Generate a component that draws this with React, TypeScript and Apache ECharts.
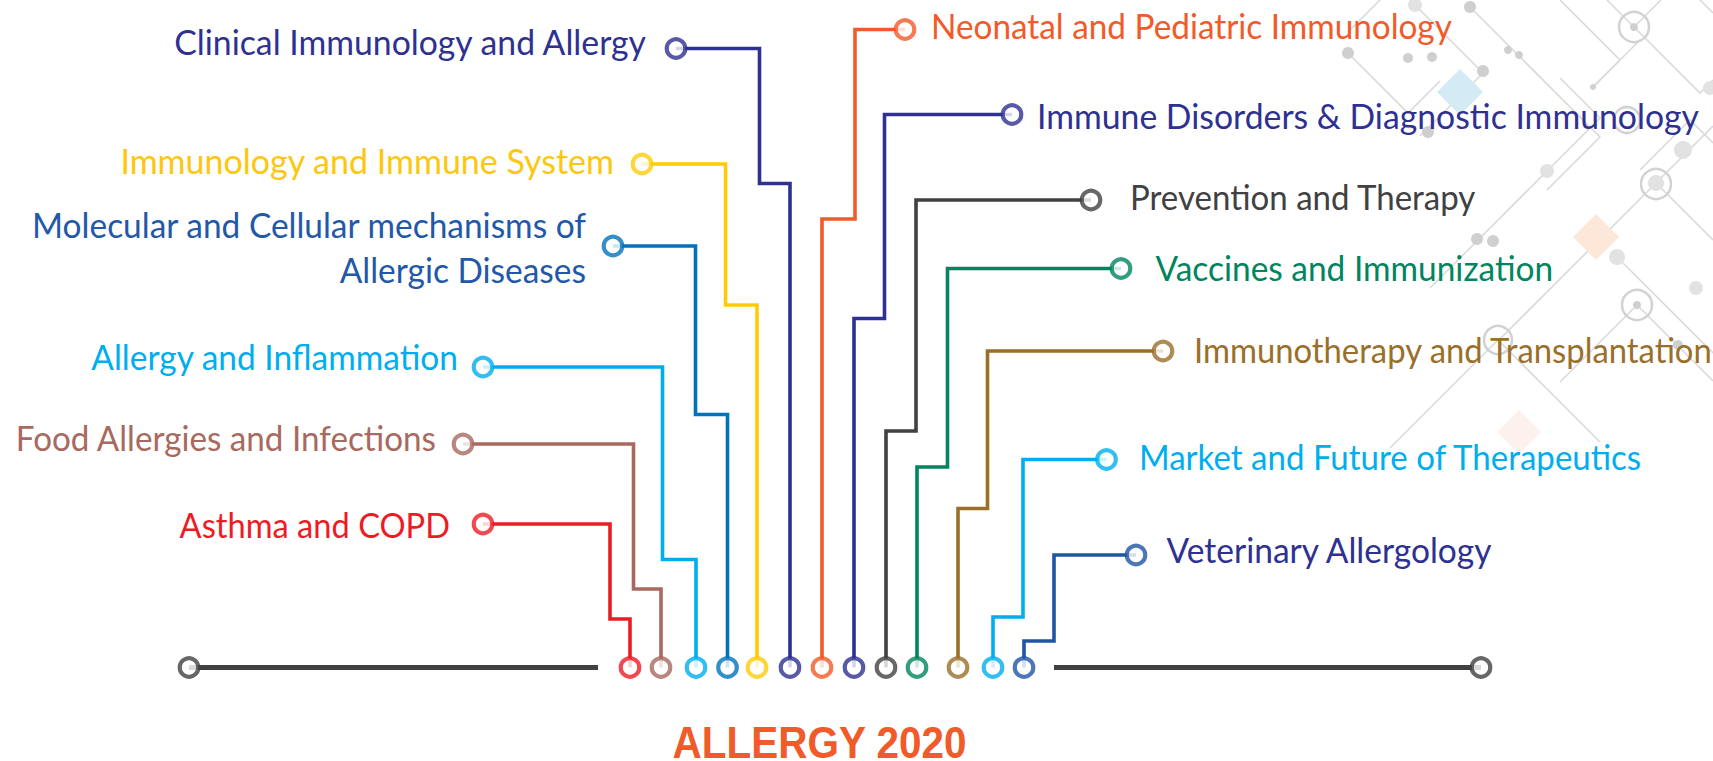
import React, { useEffect, useRef } from "react";
import * as echarts from "echarts";

const W = 1713;
const H = 761;

// ---- Topics (drawn as circuit connectors into the bottom bus) ----
const topicNames = [
  "Asthma and COPD",
  "Food Allergies and Infections",
  "Allergy and Inflammation",
  "Molecular and Cellular mechanisms of\nAllergic Diseases",
  "Immunology and Immune System",
  "Clinical Immunology and Allergy",
  "Neonatal and Pediatric Immunology",
  "Immune Disorders & Diagnostic Immunology",
  "Prevention and Therapy",
  "Vaccines and Immunization",
  "Immunotherapy and Transplantation",
  "Market and Future of Therapeutics",
  "Veterinary Allergology",
];
const topicSide = ["left", "left", "left", "left", "left", "left", "right", "right", "right", "right", "right", "right", "right"];
// label node (circle at the end of each connector)
const anchorX = [483, 463, 483, 613, 642, 676, 905, 1012, 1091, 1121, 1163, 1106.5, 1136];
const anchorY = [524, 444, 367, 246, 164, 48.5, 29.5, 114.5, 200, 268.5, 351, 459.5, 555];
// first vertical run of each connector
const trunkX = [610, 633.5, 662.5, 695.5, 725.5, 759.5, 855, 884.5, 916, 947.5, 987.5, 1023, 1054];
// height of the jog
const stepY = [619, 589, 559.5, 414.5, 305, 183.5, 219, 318.5, 431, 467, 508.5, 617, 641];
// slot on the bottom bus
const slotX = [630, 661, 696, 727.5, 757, 790, 822, 854, 886, 917, 958, 993, 1024];
// text anchors
const labelEdgeX = [450, 436, 458, 586, 614, 646, 931, 1037, 1130, 1155.5, 1194, 1139, 1166.5];
const labelMidY = [525.8, 439.2, 357.5, 248.6, 161.5, 42.5, 26.5, 116.8, 198.2, 269.2, 350.8, 458.2, 550.8];

// bottom bus
const busY = 667.5;
const busLeft = [189, 598];
const busRight = [1054, 1481];

// ---- styles ----
const lineColors = ["#ed1c24", "#a8695f", "#00aeef", "#0072bc", "#ffcb05", "#2e3192", "#f15a29", "#2e3192", "#414042", "#00855f", "#9a6f2a", "#00aeef", "#1f55a5"];
const textColors = ["#ed1c24", "#a8695f", "#00aeef", "#2358a8", "#fdc70f", "#2e3192", "#f15a29", "#2e3192", "#414042", "#00855f", "#9a6f2a", "#00aeef", "#2e3192"];
const labelScaleX = [0.96, 0.977, 0.985, 0.984, 1.0, 0.993, 0.98, 0.993, 0.972, 0.984, 0.965, 0.972, 0.987];
const busColor = "#414042";

const titleText = "ALLERGY 2020";

// ---- faint background network (decoration) ----
const decoLines: number[][][] = [
  [[1410, 0], [1483, 73], [1420, 136]],
  [[1470, 7], [1519, 56], [1600, 137], [1547, 190]],
  [[1656, 183], [1713, 240]],
  [[1656, 183], [1500, 339]],
  [[1656, 183], [1713, 126]],
  [[1634, 27], [1607, 0]],
  [[1634, 27], [1661, 0]],
  [[1634, 27], [1700, 93], [1713, 80]],
  [[1547, 171], [1430, 288]],
  [[1547, 171], [1600, 118], [1560, 78]],
  [[1637, 305], [1713, 381]],
  [[1637, 305], [1560, 382]],
  [[1498, 340], [1390, 448]],
  [[1498, 340], [1600, 442]],
  [[1593, 87], [1640, 40]],
  [[1617, 257], [1713, 353]],
  [[1348, 53], [1408, 113], [1440, 81]],
  [[1640, 170], [1690, 120], [1713, 143]],
  [[1380, 0], [1348, 32]],
  [[1560, 0], [1620, 60], [1593, 87]],
  [[1700, 0], [1713, 13]],
];
const decoDots: number[][] = [
  [1415, 5, 7], [1470, 7, 6], [1432, 57, 5], [1483, 71, 6], [1519, 55, 4], [1593, 87, 3],
  [1710, 88, 7], [1547, 171, 7], [1683, 150, 9], [1656, 183, 8], [1617, 257, 8], [1696, 288, 7],
  [1637, 305, 4], [1477, 239, 6], [1493, 241, 6], [1678, 345, 5], [1348, 53, 6], [1408, 58, 5],
  [1508, 50, 4], [1428, 132, 6], [1634, 27, 4],
];
const decoRings: number[][] = [[1634, 27, 15], [1656, 184, 15], [1637, 305, 15], [1498, 340, 14], [1627, 120, 13]];
const decoDiamonds: any[] = [[1460, 92, 23, "#d3ebf4"], [1596, 237, 23, "#fde7d9"], [1519, 432, 22, "#fdf1ee"]];

function buildDeco(): any[] {
  const els: any[] = [];
  decoLines.forEach((pts) =>
    els.push({ type: "polyline", shape: { points: pts }, style: { stroke: "#dadada", lineWidth: 1.6, fill: null }, z: 0, silent: true })
  );
  decoDiamonds.forEach(([x, y, r, c]) =>
    els.push({
      type: "polygon",
      shape: { points: [[x, y - r], [x + r, y], [x, y + r], [x - r, y]] },
      style: { fill: c },
      z: 0,
      silent: true,
    })
  );
  decoRings.forEach(([x, y, r]) =>
    els.push({ type: "circle", shape: { cx: x, cy: y, r }, style: { stroke: "#d2d2d2", lineWidth: 2.5, fill: null }, z: 0, silent: true })
  );
  decoDots.forEach(([x, y, r]) =>
    els.push({ type: "circle", shape: { cx: x, cy: y, r }, style: { fill: r >= 7 ? "#e2e2e2" : "#cfcfcf" }, z: 0, silent: true })
  );
  return els;
}

export default function App() {
  const ref = useRef<HTMLDivElement>(null);
  useEffect(() => {
    if (!ref.current) return;
    const chart = echarts.init(ref.current, null, { renderer: "svg" });

    const connectorSeries = topicNames.map((name, i) => ({
      type: "line",
      name,
      data: [
        [anchorX[i], anchorY[i]],
        [trunkX[i], anchorY[i]],
        [trunkX[i], stepY[i]],
        [slotX[i], stepY[i]],
        [slotX[i], busY],
      ],
      symbol: "none",
      showSymbol: false,
      silent: true,
      z: 2,
      lineStyle: { color: lineColors[i], width: 3.6, cap: "butt", join: "miter" },
    }));

    const busSeries = [busLeft, busRight].map((seg) => ({
      type: "line",
      data: [
        [seg[0], busY],
        [seg[1], busY],
      ],
      symbol: "none",
      showSymbol: false,
      silent: true,
      z: 2,
      lineStyle: { color: busColor, width: 5, cap: "butt" },
    }));

    const nodeData: any[] = [];
    topicNames.forEach((_, i) => {
      nodeData.push({ value: [anchorX[i], anchorY[i]], itemStyle: { borderColor: lineColors[i] } });
      nodeData.push({ value: [slotX[i], busY], itemStyle: { borderColor: lineColors[i] } });
    });
    nodeData.push({ value: [busLeft[0], busY], itemStyle: { borderColor: busColor } });
    nodeData.push({ value: [busRight[1], busY], itemStyle: { borderColor: busColor } });

    chart.setOption({
      animation: false,
      backgroundColor: "#ffffff",
      grid: { left: 0, right: 0, top: 0, bottom: 0 },
      xAxis: { type: "value", min: 0, max: W, show: false },
      yAxis: { type: "value", min: 0, max: H, inverse: true, show: false },
      series: [
        ...connectorSeries,
        ...busSeries,
        {
          type: "scatter",
          data: nodeData,
          symbol: "circle",
          symbolSize: 18.5,
          silent: true,
          z: 3,
          itemStyle: { color: "#ffffff", borderWidth: 4.2 },
        },
      ],
    });

    const labels = topicNames.map((name, i) => {
      const p = chart.convertToPixel({ gridIndex: 0 }, [labelEdgeX[i], labelMidY[i]]) as number[];
      return {
        type: "text",
        x: p[0],
        y: p[1] - 1,
        scaleX: labelScaleX[i],
        z: 10,
        silent: true,
        style: {
          text: name,
          fill: textColors[i],
          fontSize: 34,
          fontFamily: "Lato",
          align: topicSide[i] === "left" ? "right" : "left",
          verticalAlign: "middle",
          lineHeight: 44.5,
        },
      };
    });

    chart.setOption({
      graphic: [
        ...buildDeco(),
        ...labels,
        {
          type: "text",
          x: 819.5,
          y: 742.5,
          scaleX: 0.92,
          z: 10,
          silent: true,
          style: {
            text: titleText,
            fill: "#f15a29",
            fontSize: 44,
            fontWeight: "bold",
            fontFamily: "Liberation Sans",
            align: "center",
            verticalAlign: "middle",
            lineHeight: 36,
          },
        },
      ],
    });

    return () => chart.dispose();
  }, []);

  return <div ref={ref} style={{ position: "absolute", left: 0, top: 0, width: W, height: H }} />;
}
